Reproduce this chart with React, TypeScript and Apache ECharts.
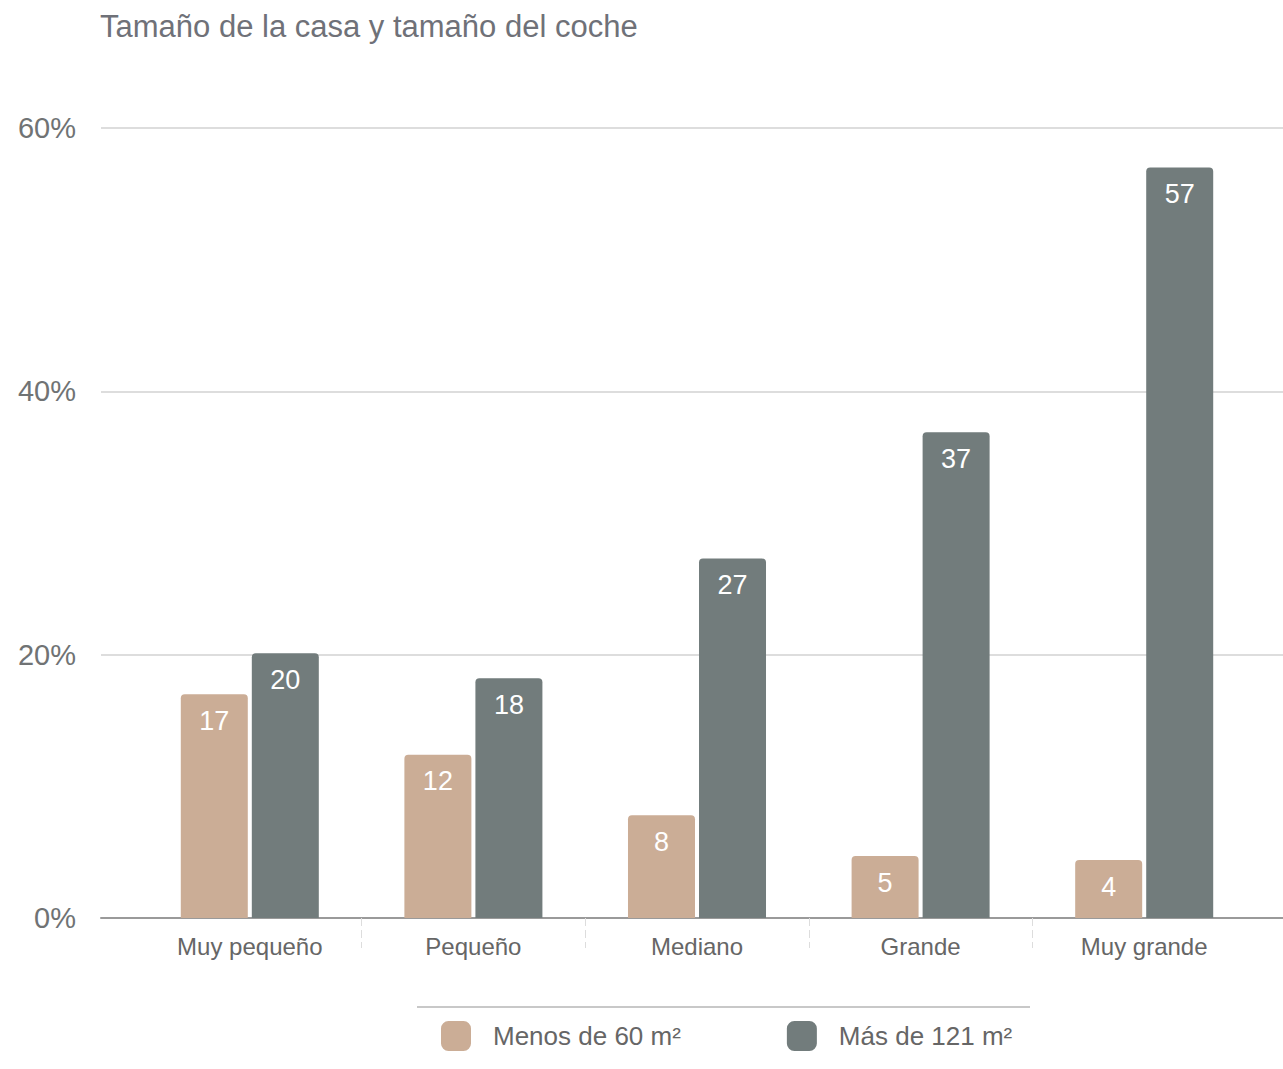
import React, { useEffect, useRef } from "react";
import * as echarts from "echarts";

const categories = ["Muy pequeño", "Pequeño", "Mediano", "Grande", "Muy grande"];
const seriesNames = ["Menos de 60 m²", "Más de 121 m²"];
const smallHouse = [17, 12.4, 7.8, 4.7, 4.4];
const bigHouse = [20.1, 18.2, 27.3, 36.9, 57];
const yTicks = { min: 0, max: 60, interval: 20 };
const boundaryTicks = [0.5, 1.5, 2.5, 3.5];

const FONT = "'Liberation Sans', Arial, sans-serif";
const BEIGE = "#cbad96";
const GRAY = "#727c7c";

export default function App() {
  const ref = useRef<HTMLDivElement>(null);
  useEffect(() => {
    if (!ref.current) return;
    const chart = echarts.init(ref.current, undefined, { renderer: "svg" });
    const label = {
      show: true,
      position: "insideTop",
      distance: 13,
      color: "#ffffff",
      fontSize: 27,
      fontFamily: FONT,
      formatter: (p: any) => String(Math.round(p.value)),
    };
    chart.setOption({
      animation: false,
      textStyle: { fontFamily: FONT },
      title: {
        text: "Tamaño de la casa y tamaño del coche",
        left: 95,
        top: 6,
        textStyle: { fontSize: 31, fontWeight: "normal", color: "#6f7178", fontFamily: FONT },
      },
      legend: {
        data: seriesNames,
        left: 441,
        top: 1021,
        padding: 0,
        itemWidth: 30,
        itemHeight: 30,
        itemGap: 106,
        icon: "roundRect",
        textStyle: { fontSize: 26, color: "#666666", padding: [0, 0, 0, 17], fontFamily: FONT },
      },
      graphic: [
        {
          type: "line",
          shape: { x1: 417, y1: 1007, x2: 1030, y2: 1007 },
          style: { stroke: "#c8c8c8", lineWidth: 2 },
        },
      ],
      grid: [
        { left: 101, right: 0, top: 128, bottom: 151 },
        { left: 138, right: 27, top: 128, bottom: 151 },
      ],
      xAxis: [
        {
          gridIndex: 0,
          type: "value",
          position: "bottom",
          min: 0,
          max: 1,
          axisLine: { show: true, onZero: false, lineStyle: { color: "#9a9a9a", width: 2 } },
          axisTick: { show: false },
          axisLabel: { show: false },
          splitLine: { show: false },
        },
        {
          gridIndex: 1,
          type: "category",
          position: "bottom",
          data: categories,
          axisLine: { show: false },
          axisTick: { show: false },
          axisLabel: { fontSize: 24, color: "#666666", margin: 16, fontFamily: FONT },
        },
        {
          gridIndex: 1,
          type: "value",
          position: "bottom",
          min: -0.5,
          max: 4.5,
          axisLine: { show: false, onZero: false },
          axisLabel: { show: false },
          splitLine: { show: false },
          axisTick: {
            show: true,
            inside: false,
            length: 30,
            customValues: boundaryTicks,
            lineStyle: { color: "#dddddd", width: 1, type: [8, 4] },
          },
        },
      ],
      yAxis: [
        {
          gridIndex: 0,
          type: "value",
          min: yTicks.min,
          max: yTicks.max,
          interval: yTicks.interval,
          axisLine: { show: false },
          axisTick: { show: false },
          axisLabel: { formatter: "{value}%", fontSize: 29, color: "#707374", margin: 25, fontFamily: FONT },
          splitLine: { lineStyle: { color: "#dddddd", width: 2 } },
        },
        {
          gridIndex: 1,
          type: "value",
          min: yTicks.min,
          max: yTicks.max,
          show: false,
          splitLine: { show: false },
        },
      ],
      series: [
        {
          name: seriesNames[0],
          type: "bar",
          xAxisIndex: 1,
          yAxisIndex: 1,
          data: smallHouse,
          barWidth: 67,
          barGap: "6%",
          itemStyle: { color: BEIGE, borderRadius: [4, 4, 0, 0] },
          label,
        },
        {
          name: seriesNames[1],
          type: "bar",
          xAxisIndex: 1,
          yAxisIndex: 1,
          data: bigHouse,
          barWidth: 67,
          barGap: "6%",
          itemStyle: { color: GRAY, borderRadius: [4, 4, 0, 0] },
          label,
        },
      ],
    });
    return () => chart.dispose();
  }, []);
  return <div ref={ref} style={{ width: 1283, height: 1069, position: "absolute", left: 0, top: 0 }} />;
}
